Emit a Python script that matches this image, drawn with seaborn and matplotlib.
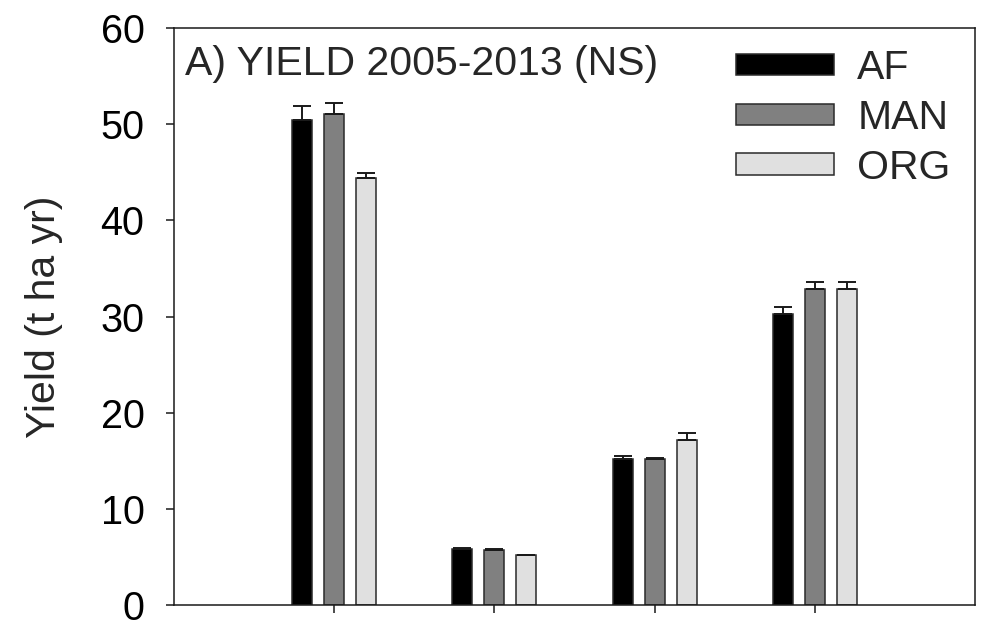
import numpy as np
import pandas as pd
import matplotlib
matplotlib.use("Agg")
import matplotlib.pyplot as plt
import seaborn as sns

# ---- data ----
groups = ["G1", "G2", "G3", "G4"]
tick_labels = ["", "", "", ""]
treatments = ["AF", "MAN", "ORG"]
af_values = [50.4, 5.8, 15.15, 30.25]
man_values = [51.1, 5.7, 15.2, 32.9]
org_values = [44.4, 5.15, 17.2, 32.9]
af_err = [1.5, 0.1, 0.35, 0.7]
man_err = [1.1, 0.15, 0.1, 0.7]
org_err = [0.5, 0.1, 0.65, 0.7]
colors = ["#000000", "#808080", "#e0e0e0"]
title_text = "A) YIELD 2005-2013 (NS)"
ylabel_text = "Yield (t ha yr)"
yticks = [0, 10, 20, 30, 40, 50, 60]

values = {"AF": af_values, "MAN": man_values, "ORG": org_values}
errors = {"AF": af_err, "MAN": man_err, "ORG": org_err}
rows = []
for t in treatments:
    for g, v in zip(groups, values[t]):
        rows.append({"group": g, "treatment": t, "yield": v})
df = pd.DataFrame(rows)

sns.set_style("ticks")
plt.rcParams["font.family"] = ["Liberation Sans", "DejaVu Sans"]

FS = 29.5
fig = plt.figure(figsize=(9.84, 6.21), dpi=100)
ax = fig.add_axes([174 / 984, 1 - 605 / 621, (975 - 174) / 984, (605 - 28) / 621])

sns.barplot(data=df, x="group", y="yield", hue="treatment", order=groups,
            hue_order=treatments, palette=colors, width=0.6, gap=0.375,
            errorbar=None, edgecolor="#2a2a2a", linewidth=1.1, ax=ax,
            saturation=1)

# upper error bars drawn on each bar container
for cont, t in zip(ax.containers, treatments):
    xs = [p.get_x() + p.get_width() / 2 for p in cont.patches]
    ys = [p.get_height() for p in cont.patches]
    ax.errorbar(xs, ys, yerr=[np.zeros(len(ys)), errors[t]], fmt="none",
                ecolor="#1a1a1a", elinewidth=1.4, capsize=6.5, capthick=1.4,
                zorder=1)

ax.set_xlim(-1, 4)
ax.set_ylim(0, 60)
ax.set_yticks(yticks)
ax.set_xticks(range(len(groups)))
ax.set_xticklabels(tick_labels)
ax.set_xlabel("")
ax.set_ylabel(ylabel_text, fontsize=FS)
ax.yaxis.set_label_coords((63 - 174) / 801, 0.5)

for s in ax.spines.values():
    s.set_visible(True)
    s.set_linewidth(1.1)
    s.set_color("#1a1a1a")

ax.tick_params(axis="y", direction="out", length=5.8, width=1.1,
               labelsize=28.5, pad=15.5, colors="#1a1a1a", labelcolor="black")
ax.tick_params(axis="x", direction="out", length=5.8, width=1.1,
               labelbottom=False, colors="#1a1a1a")

ax.text((185 - 174) / 801, (605 - 75) / 577, title_text, transform=ax.transAxes,
        fontsize=FS, ha="left", va="baseline")

leg = ax.legend(loc="center left", bbox_to_anchor=(736 / 984, 1 - 118 / 621),
                bbox_transform=fig.transFigure, frameon=False, fontsize=FS,
                handlelength=2.4, handleheight=0.44, handletextpad=0.56,
                labelspacing=0.29, borderpad=0, borderaxespad=0)
for h in leg.legend_handles:
    h.set_edgecolor("#2a2a2a")
    h.set_linewidth(1.1)

fig.savefig("out.png", dpi=100)
